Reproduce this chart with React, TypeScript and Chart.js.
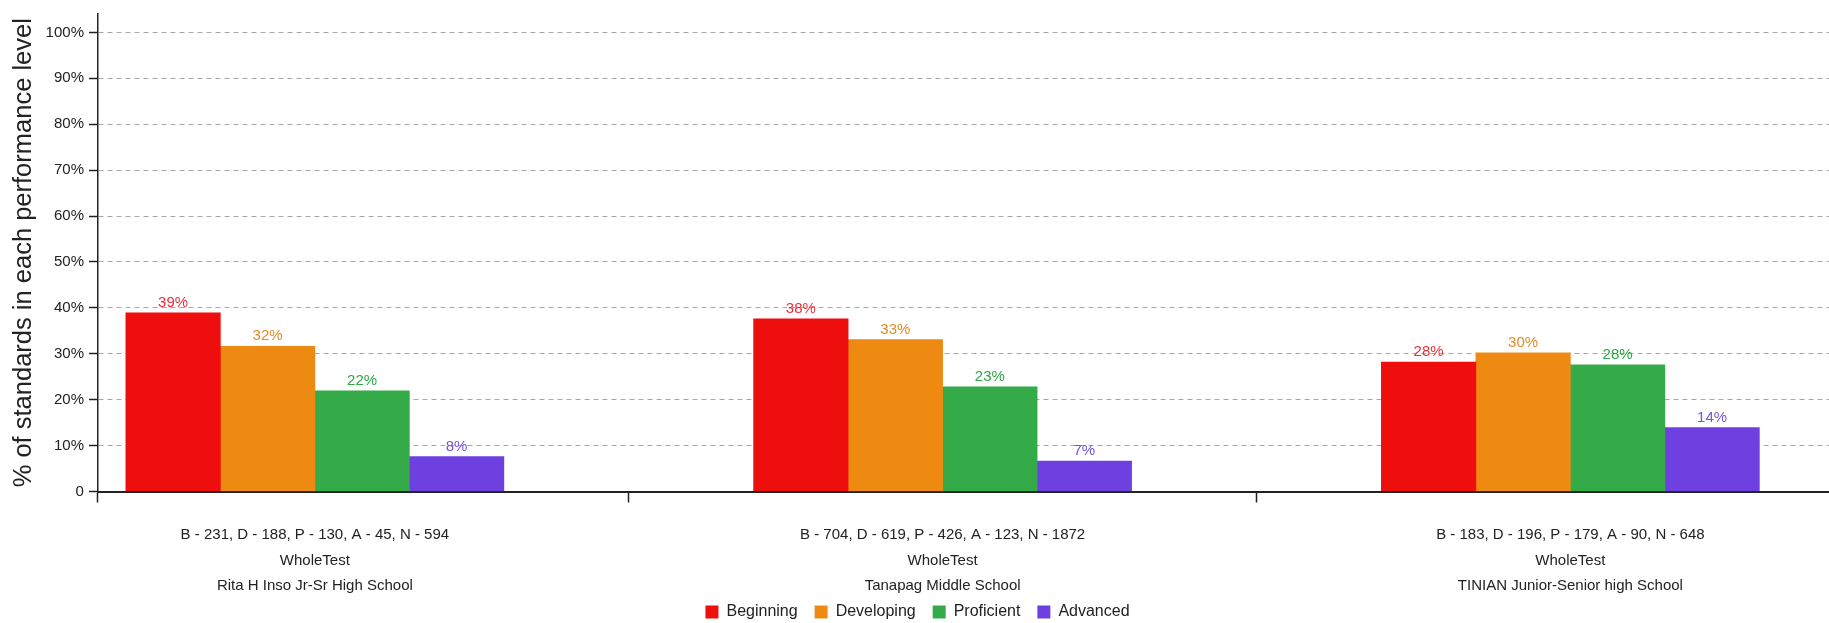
import React, { useEffect, useRef } from 'react';
import { Chart, registerables } from 'chart.js';

Chart.register(...registerables);

// ---- data ----
const categories: string[][] = [
  ['B - 231, D - 188, P - 130, A - 45, N - 594', 'WholeTest', 'Rita H Inso Jr-Sr High School'],
  ['B - 704, D - 619, P - 426, A - 123, N - 1872', 'WholeTest', 'Tanapag Middle School'],
  ['B - 183, D - 196, P - 179, A - 90, N - 648', 'WholeTest', 'TINIAN Junior-Senior high School'],
];
const seriesNames = ['Beginning', 'Developing', 'Proficient', 'Advanced'];
const beginning = [38.9, 37.6, 28.2];
const developing = [31.6, 33.1, 30.2];
const proficient = [21.9, 22.8, 27.6];
const advanced = [7.6, 6.6, 13.9];
const yTicks = [0, 10, 20, 30, 40, 50, 60, 70, 80, 90, 100];
const yTitle = '% of standards in each performance level';

const colors = ['#ee0e0e', '#ee8a12', '#34ab48', '#6e40df'];
const labelColors = ['#e8303a', '#e48c22', '#2ea644', '#7454d8'];
const FONT = "'Liberation Sans', Arial, Helvetica, sans-serif";

const X_MIN = -0.3455;
const X_MAX = 2.412;
const LEGEND_LIFT = 32;

const valueLabelPlugin = {
  id: 'valueLabels',
  afterLayout(chart: any) {
    if (chart.legend) {
      chart.legend.top -= LEGEND_LIFT;
      chart.legend.bottom -= LEGEND_LIFT;
    }
  },
  afterDatasetsDraw(chart: any) {
    const ctx = chart.ctx;
    ctx.save();
    ctx.font = `15px ${FONT}`;
    ctx.textAlign = 'center';
    ctx.textBaseline = 'alphabetic';
    chart.data.datasets.forEach((ds: any, di: number) => {
      const meta = chart.getDatasetMeta(di);
      meta.data.forEach((el: any, i: number) => {
        const v = ds.data[i].y;
        ctx.fillStyle = labelColors[di];
        ctx.fillText(Math.round(v) + '%', el.x, el.y - 6);
      });
    });
    ctx.restore();
  },
};

export default function App() {
  const ref = useRef<HTMLCanvasElement | null>(null);

  useEffect(() => {
    document.body.style.margin = '0';
    const series = [beginning, developing, proficient, advanced];
    const chart = new Chart(ref.current as HTMLCanvasElement, {
      type: 'bar',
      data: {
        datasets: series.map((vals, di) => ({
          label: seriesNames[di],
          data: vals.map((v, i) => ({ x: i, y: v })),
          backgroundColor: colors[di],
          borderWidth: 0,
          barThickness: 94.5,
        })),
      },
      options: {
        responsive: false,
        animation: false,
        devicePixelRatio: 1,
        layout: { padding: { left: 6, right: 0, top: 0, bottom: -39 } },
        plugins: {
          tooltip: { enabled: false },
          legend: {
            position: 'bottom',
            labels: {
              boxWidth: 13,
              boxHeight: 13,
              padding: 17,
              color: '#222',
              font: { family: FONT, size: 16 },
            },
          },
        },
        scales: {
          x: {
            type: 'linear',
            offset: false,
            min: X_MIN,
            max: X_MAX,
            afterBuildTicks: (scale: any) => {
              scale.ticks = [X_MIN, 0, 0.5, 1, 1.5, 2].map((v) => ({ value: v }));
            },
            ticks: {
              autoSkip: false,
              maxRotation: 0,
              padding: 20,
              color: '#222',
              font: { family: FONT, size: 15, lineHeight: 1.7 },
              callback: (v: any) => (Number.isInteger(v) && v >= 0 && v < categories.length ? categories[v] : ''),
            },
            grid: {
              offset: false,
              drawOnChartArea: false,
              drawTicks: true,
              tickLength: 11,
              tickWidth: 1.5,
              tickColor: (c: any) => (c.tick && Number.isInteger(c.tick.value) ? 'rgba(0,0,0,0)' : '#222'),
            },
            border: { color: '#222', width: 2 },
          },
          y: {
            min: 0,
            max: 104,
            afterBuildTicks: (scale: any) => {
              scale.ticks = yTicks.map((v) => ({ value: v }));
            },
            ticks: {
              padding: 5,
              color: '#222',
              font: { family: FONT, size: 15 },
              callback: (v: any) => (v === 0 ? '0' : v + '%'),
            },
            grid: {
              color: '#a8a8a8',
              lineWidth: 1,
              tickLength: 9,
              tickWidth: 1.5,
              tickColor: '#222',
              tickBorderDash: [],
            },
            border: { color: '#222', width: 1.5, dash: [5, 4] },
            title: {
              display: true,
              text: yTitle,
              color: '#222',
              font: { family: FONT, size: 25.5 },
              padding: { top: 3, bottom: 1 },
            },
          },
        },
      },
      plugins: [valueLabelPlugin],
    } as any);
    return () => chart.destroy();
  }, []);

  return (
    <div style={{ width: 1829, height: 623 }}>
      <canvas ref={ref} width={1829} height={623} />
    </div>
  );
}
